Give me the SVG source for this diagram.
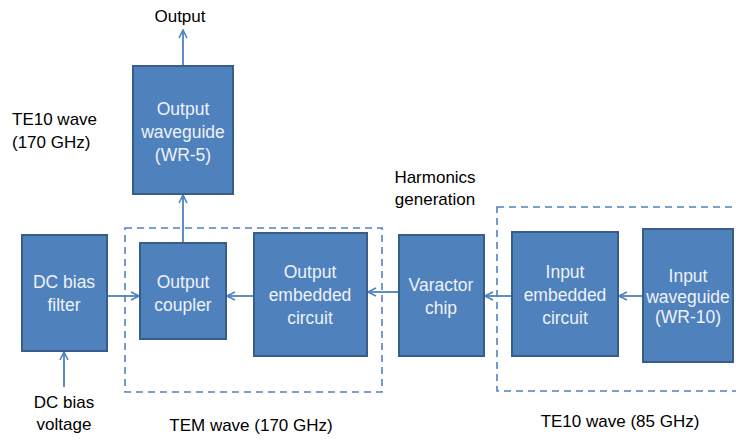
<svg xmlns="http://www.w3.org/2000/svg" width="736" height="441" viewBox="0 0 736 441">
<style>
.box{fill:#4f81bd;stroke:#385d8a;stroke-width:2}
.bt{fill:#eef2fa;font-family:"Liberation Sans",Arial,sans-serif;font-size:17.5px;text-anchor:middle}
.lt{fill:#000;font-family:"Liberation Sans",Arial,sans-serif;font-size:17px}
.c{stroke:#4f81bd;stroke-width:1.8;fill:none;marker-end:url(#ah)}
.dash{fill:none;stroke:#4f81bd;stroke-width:1.6;stroke-dasharray:7,5}
</style>
<defs>
<marker id="ah" viewBox="0 0 10 10" refX="9" refY="5" markerWidth="10" markerHeight="10" markerUnits="userSpaceOnUse" orient="auto">
<path d="M1,1 L9,5 L1,9" fill="none" stroke="#4f81bd" stroke-width="1.6"/>
</marker>
</defs>
<rect width="736" height="441" fill="#fff"/>
<g id="groups">
<rect class="dash" x="125" y="228" width="257" height="164"/>
<rect class="dash" x="497" y="207" width="245" height="184"/>
</g>
<g id="connectors">
<line class="c" x1="183" y1="66" x2="183" y2="30"/>
<line class="c" x1="183" y1="243" x2="183" y2="195"/>
<line class="c" x1="64" y1="387" x2="64" y2="352"/>
<line class="c" x1="107" y1="296" x2="139" y2="296"/>
<line class="c" x1="254" y1="296" x2="227" y2="296"/>
<line class="c" x1="399" y1="292" x2="368" y2="292"/>
<line class="c" x1="512" y1="296" x2="485" y2="296"/>
<line class="c" x1="643" y1="296" x2="619" y2="296"/>
</g>
<g id="output-waveguide">
<rect class="box" x="133" y="66" width="100" height="128"/>
<text class="bt" x="183" y="115">Output</text>
<text class="bt" x="183" y="138">waveguide</text>
<text class="bt" x="183" y="161">(WR-5)</text>
</g>
<g id="dc-bias-filter">
<rect class="box" x="22" y="235" width="85" height="116"/>
<text class="bt" x="64" y="288">DC bias</text>
<text class="bt" x="64" y="311">filter</text>
</g>
<g id="output-coupler">
<rect class="box" x="140" y="243" width="86" height="96"/>
<text class="bt" x="183" y="288">Output</text>
<text class="bt" x="183" y="311">coupler</text>
</g>
<g id="output-embedded-circuit">
<rect class="box" x="254" y="233" width="113" height="123"/>
<text class="bt" x="310" y="278">Output</text>
<text class="bt" x="310" y="301">embedded</text>
<text class="bt" x="310" y="324">circuit</text>
</g>
<g id="varactor-chip">
<rect class="box" x="399" y="235" width="85" height="121"/>
<text class="bt" x="441" y="291">Varactor</text>
<text class="bt" x="441" y="314">chip</text>
</g>
<g id="input-embedded-circuit">
<rect class="box" x="512" y="232" width="106" height="124"/>
<text class="bt" x="565" y="278">Input</text>
<text class="bt" x="565" y="301">embedded</text>
<text class="bt" x="565" y="324">circuit</text>
</g>
<g id="input-waveguide">
<rect class="box" x="643" y="229" width="90" height="133"/>
<text class="bt" x="688" y="282" font-size="15">Input</text>
<text class="bt" x="688" y="303" font-size="15">waveguide</text>
<text class="bt" x="688" y="323" font-size="15">(WR-10)</text>
</g>
<g id="labels">
<text class="lt" x="180" y="22" text-anchor="middle">Output</text>
<text class="lt" x="12" y="125">TE10 wave</text>
<text class="lt" x="12" y="148">(170 GHz)</text>
<text class="lt" x="435" y="183" text-anchor="middle">Harmonics</text>
<text class="lt" x="435" y="205" text-anchor="middle">generation</text>
<text class="lt" x="64" y="408" text-anchor="middle">DC bias</text>
<text class="lt" x="64" y="430" text-anchor="middle">voltage</text>
<text class="lt" x="251" y="431" text-anchor="middle" font-size="18.5">TEM wave (170 GHz)</text>
<text class="lt" x="620" y="427" text-anchor="middle">TE10 wave (85 GHz)</text>
</g>
</svg>
